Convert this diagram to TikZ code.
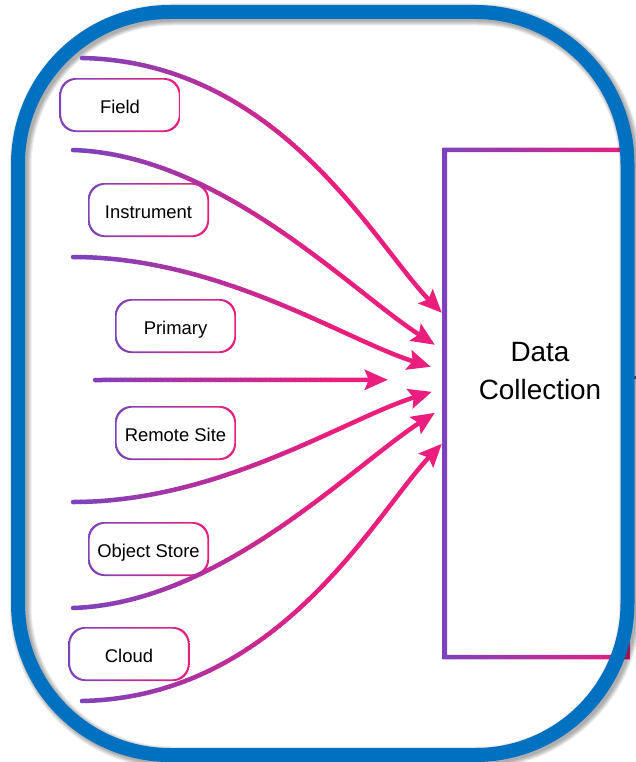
\documentclass[tikz,border=0pt]{standalone}
\usepackage{fontspec}
\setmainfont{Liberation Sans}
\usetikzlibrary{arrows.meta,calc}

\definecolor{purp}{HTML}{7C43BD}
\definecolor{pinkc}{HTML}{E91E7D}
\definecolor{frameblue}{HTML}{0070C0}
\definecolor{tickc}{HTML}{B3306F}

% gradient (purple -> pink) outline round a node:
% #1 node, #2 half line width, #3 corner radius
\newcommand\gradborder[3]{%
  \begin{scope}[even odd rule]
    \clip[rounded corners=#3]
      ([xshift=-#2,yshift=#2]#1.north west) rectangle ([xshift=#2,yshift=-#2]#1.south east)
      ([xshift=#2,yshift=-#2]#1.north west) rectangle ([xshift=-#2,yshift=#2]#1.south east);
    \shade[left color=purp,right color=pinkc]
      ([xshift=-#2,yshift=#2]#1.north west) rectangle ([xshift=#2,yshift=-#2]#1.south east);
  \end{scope}}

% the seven incoming flows
\newcommand\flowpaths[1]{%
  \draw[flow,#1] (s1) .. controls (280,62)  and (375,245) .. (t1);
  \draw[flow,#1] (s2) .. controls (220,155) and (350,290) .. (t2);
  \draw[flow,#1] (s3) .. controls (220,257) and (345,340) .. (t3);
  \draw[flow,#1] (s4) -- (t4);
  \draw[flow,#1] (s5) .. controls (220,502) and (345,419) .. (t5);
  \draw[flow,#1] (s6) .. controls (220,603) and (350,468) .. (t6);
  \draw[flow,#1] (s7) .. controls (280,697) and (375,514) .. (t7);}

\begin{document}
\begin{tikzpicture}[x=1bp,y=-1bp,
  flow/.style={line width=4.5bp,line cap=round,
    -{Stealth[length=23bp,width=20bp,inset=4bp]}},
  source/.style={rectangle,minimum width=119bp,minimum height=52bp,inner sep=0pt,
    font=\fontsize{18.5}{22}\selectfont,text height=17bp,text depth=0bp},
  dcbox/.style={rectangle,minimum width=183bp,minimum height=507bp,inner sep=0pt},
  dctext/.style={align=center,font=\fontsize{28}{38}\selectfont,inner sep=0pt},
  frame/.style={draw=frameblue,line width=14bp,rounded corners=152bp}]

\useasboundingbox (0,0) rectangle (636,762);
\fill[white] (0,0) rectangle (636,762);

% collection box and the outgoing stub on its right
\node[dcbox] (dc) at (536.5,403.5) {};
\draw[tickc,line width=3bp] ([yshift=26bp]dc.east) -- ++(14,0);
\gradborder{dc}{2.25bp}{0.01bp}
\node[dctext] (dclabel) at (540,371) {Data\\Collection};

% outer frame with a soft shadow
\foreach \k in {0,...,4}{
  \draw[frame,draw=black,opacity=0.07,line width=14bp+2bp*\k,shift={(2.5,2.5)}]
    (18,12) rectangle (627.5,755);
}
\draw[frame] (18,12) rectangle (627.5,755);

% source labels
\node[source] (field)  at (120,105)   {Field};
\node[source] (instr)  at (148.5,210) {Instrument};
\node[source] (prim)   at (175.5,326) {Primary};
\node[source] (remote) at (175.5,433) {Remote Site};
\node[source] (objst)  at (148.5,549) {Object Store};
\node[source] (cloud)  at (129,654)   {Cloud};
\foreach \n in {field,instr,prim,remote,objst,cloud}{
  \gradborder{\n}{0.8bp}{16bp}
}

% flow end points
\coordinate (s1) at (82,58);
\coordinate (s2) at (73,150);
\coordinate (s3) at (73,257);
\coordinate (s4) at (95,380);
\coordinate (s5) at (73,502);
\coordinate (s6) at (73,608);
\coordinate (s7) at (82,701);
\coordinate (t1) at ([xshift=-3bp,yshift=-163bp]dc.north west);
\coordinate (t2) at ([xshift=-10bp,yshift=-195bp]dc.north west);
\coordinate (t3) at ([xshift=-14bp,yshift=-217bp]dc.north west);
\coordinate (t4) at ([xshift=-57bp,yshift=-230bp]dc.north west);
\coordinate (t5) at ([xshift=-13bp,yshift=-242bp]dc.north west);
\coordinate (t6) at ([xshift=-10bp,yshift=-263bp]dc.north west);
\coordinate (t7) at ([xshift=-3bp,yshift=-294bp]dc.north west);

% flows coloured strip by strip, purple on the left to pink on the right
\foreach \i in {0,...,52}{
  \pgfmathsetmacro\xa{65+5*\i}
  \pgfmathtruncatemacro\pc{max(0,min(100,(5*\i+67.5-75)/255*100))}
  \colorlet{stripc}{pinkc!\pc!purp}
  \begin{scope}
    \clip (\xa,0) rectangle (\xa+5.6,762);
    \flowpaths{color=stripc}
  \end{scope}
}
\begin{scope}
  \clip (330,0) rectangle (480,762);
  \flowpaths{color=pinkc}
\end{scope}

\end{tikzpicture}
\end{document}
